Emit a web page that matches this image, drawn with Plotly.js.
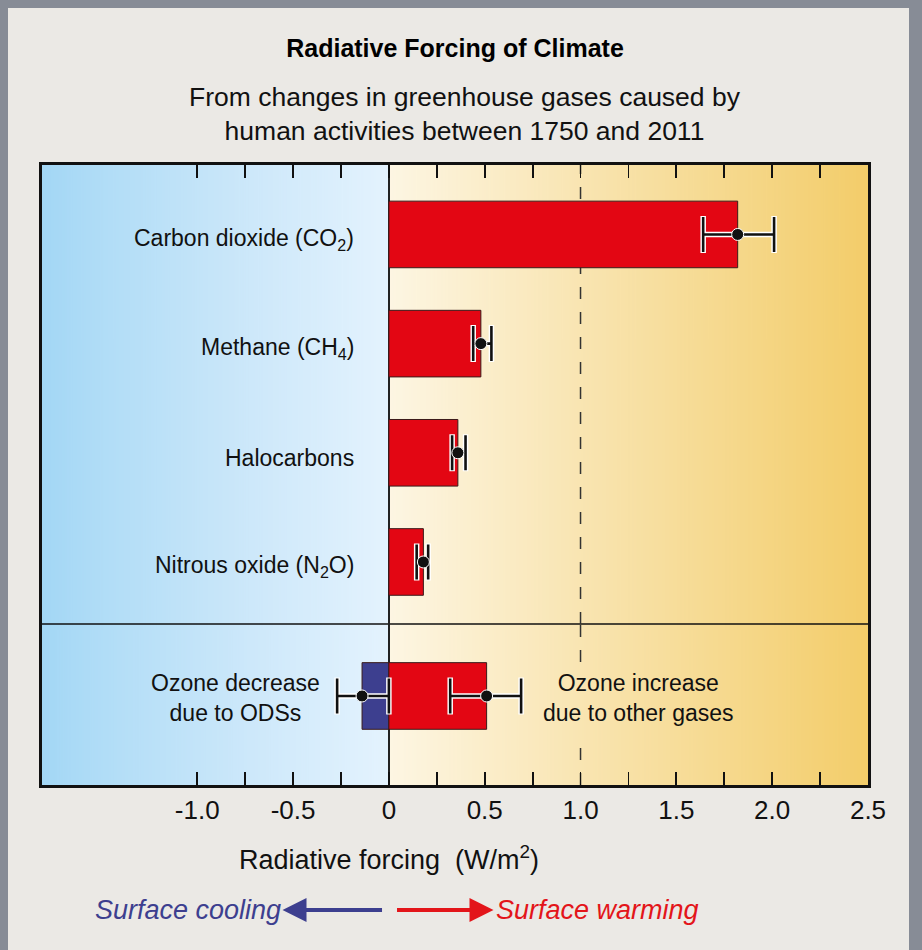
<!DOCTYPE html>
<html>
<head>
<meta charset="utf-8">
<script src="https://cdn.plot.ly/plotly-3.0.1.min.js"></script>
<style>
  html, body { margin: 0; padding: 0; background: #878c96; width: 922px; height: 950px; overflow: hidden; }
  #chart { position: absolute; left: 8px; top: 8px; width: 901px; height: 942px; }
</style>
</head>
<body>
<div id="chart"></div>
<script>
// ---------------- data ----------------
const GHG_CATS   = ['CO2', 'CH4', 'Halocarbons', 'N2O'];
const GHG_LABELS = ['Carbon dioxide (CO<sub>2</sub>)', 'Methane (CH<sub>4</sub>)', 'Halocarbons', 'Nitrous oxide (N<sub>2</sub>O)'];
const GHG_VALUE  = [1.82, 0.48, 0.36, 0.18];
const GHG_LOW    = [1.64, 0.44, 0.33, 0.145];
const GHG_HIGH   = [2.01, 0.535, 0.40, 0.205];

const OZONE_CAT       = ['Ozone'];
const OZONE_DEC_VALUE = [-0.14];
const OZONE_DEC_LOW   = [-0.27];
const OZONE_DEC_HIGH  = [0.0];
const OZONE_INC_VALUE = [0.51];
const OZONE_INC_LOW   = [0.32];
const OZONE_INC_HIGH  = [0.69];

const OZONE_DEC_LABEL = 'Ozone decrease<br>due to ODSs';
const OZONE_INC_LABEL = 'Ozone increase<br>due to other gases';

const TICK_VALS  = [-1, -0.5, 0, 0.5, 1, 1.5, 2, 2.5];
const TICK_TEXT  = ['-1.0', '-0.5', '0', '0.5', '1.0', '1.5', '2.0', '2.5'];
const MINOR_VALS = [-0.75, -0.25, 0.25, 0.75, 1.25, 1.75, 2.25];
const LONG_VALS  = [-1, 1, 2];

const TITLE    = 'Radiative Forcing of Climate';
const SUBTITLE = 'From changes in greenhouse gases caused by<br>human activities between 1750 and 2011';
const X_TITLE  = 'Radiative forcing  (W/m<sup>2</sup>)';
const COOL_TXT = 'Surface cooling';
const WARM_TXT = 'Surface warming';

// ---------------- styles ----------------
const X_RANGE = [-1.81, 2.5];
const RED = '#e30613', BLUE = '#3d3f8f', INK = '#111111';
const FONT = 'Liberation Sans, Arial, sans-serif';
const SEP = 0.2597;

function sub(a, b) { return a.map((v, i) => v - b[i]); }

function gradientURL(stops) {
  const c = document.createElement('canvas');
  c.width = 512; c.height = 2;
  const g = c.getContext('2d');
  const lg = g.createLinearGradient(0, 0, 512, 0);
  stops.forEach(s => lg.addColorStop(s[0], s[1]));
  g.fillStyle = lg; g.fillRect(0, 0, 512, 2);
  return c.toDataURL();
}
const coolURL = gradientURL([[0, '#a3d7f5'], [0.18, '#b1ddf7'], [0.6, '#cde8fa'], [1, '#e4f3fe']]);
const warmURL = gradientURL([[0, '#fdf6e3'], [0.4, '#f9e5b2'], [1, '#f3cd6a']]);

function errTrace(x, y, lo, hi, yaxis, xaxis, halo) {
  return {
    type: 'scatter', mode: 'markers', x: x, y: y, xaxis: xaxis, yaxis: yaxis,
    hoverinfo: 'skip', showlegend: false,
    marker: halo ? { size: 1, color: 'rgba(0,0,0,0)' } : { size: 12, color: INK, line: { color: '#ffffff', width: 1 } },
    error_x: {
      type: 'data', symmetric: false,
      array: sub(hi, x), arrayminus: sub(x, lo),
      color: halo ? '#ffffff' : INK,
      thickness: halo ? 5.5 : 2.6,
      width: halo ? 18.5 : 17.5
    }
  };
}

const barStyle = (col) => ({ color: col, line: { color: '#3a1a1a', width: 1 } });

const traces = [
  { type: 'bar', orientation: 'h', x: GHG_VALUE, y: GHG_CATS, xaxis: 'x', yaxis: 'y',
    width: 0.61, marker: barStyle(RED), hoverinfo: 'skip', showlegend: false },
  errTrace(GHG_VALUE, GHG_CATS, GHG_LOW, GHG_HIGH, 'y', 'x', true),
  errTrace(GHG_VALUE, GHG_CATS, GHG_LOW, GHG_HIGH, 'y', 'x', false),

  { type: 'bar', orientation: 'h', x: OZONE_DEC_VALUE, y: OZONE_CAT, xaxis: 'x2', yaxis: 'y2',
    width: 0.61, marker: barStyle(BLUE), hoverinfo: 'skip', showlegend: false },
  { type: 'bar', orientation: 'h', x: OZONE_INC_VALUE, y: OZONE_CAT, xaxis: 'x2', yaxis: 'y2',
    width: 0.61, marker: barStyle(RED), hoverinfo: 'skip', showlegend: false },
  errTrace(OZONE_DEC_VALUE, OZONE_CAT, OZONE_DEC_LOW, OZONE_DEC_HIGH, 'y2', 'x2', true),
  errTrace(OZONE_INC_VALUE, OZONE_CAT, OZONE_INC_LOW, OZONE_INC_HIGH, 'y2', 'x2', true),
  errTrace(OZONE_DEC_VALUE, OZONE_CAT, OZONE_DEC_LOW, OZONE_DEC_HIGH, 'y2', 'x2', false),
  errTrace(OZONE_INC_VALUE, OZONE_CAT, OZONE_INC_LOW, OZONE_INC_HIGH, 'y2', 'x2', false)
];

const baseX = {
  range: X_RANGE, showgrid: false, fixedrange: true,
  zeroline: true, zerolinecolor: '#222222', zerolinewidth: 1.5,
  showline: true, linecolor: INK, linewidth: 3,
  ticks: 'inside', tickvals: TICK_VALS, ticktext: TICK_TEXT, ticklen: 13, tickwidth: 1.8, tickcolor: INK,
  minor: { tickvals: MINOR_VALS, ticks: 'inside', ticklen: 13, tickwidth: 1.8, tickcolor: INK, showgrid: false }
};
const longX = {
  range: X_RANGE, showgrid: false, zeroline: false, showline: false, fixedrange: true,
  ticks: 'inside', tickvals: LONG_VALS, ticklen: 25, tickwidth: 1.8, tickcolor: INK, showticklabels: false
};

const layout = {
  width: 901, height: 942,
  margin: { l: 34, r: 41, t: 157, b: 165, pad: 0 },
  paper_bgcolor: '#ebe9e5', plot_bgcolor: 'rgba(0,0,0,0)',
  font: { family: FONT, color: INK },
  barmode: 'overlay', bargap: 0,
  title: { text: '<b>' + TITLE + '</b>', x: 0.5, xref: 'paper', xanchor: 'center',
           y: 0.9575, yref: 'container', yanchor: 'middle',
           font: { family: FONT, size: 25, color: '#000' } },
  xaxis:  Object.assign({}, baseX, { anchor: 'y', side: 'top', showticklabels: false }),
  xaxis3: Object.assign({}, longX, { overlaying: 'x', anchor: 'y', side: 'top' }),
  xaxis2: Object.assign({}, baseX, { anchor: 'y2', side: 'bottom', showticklabels: true,
           tickfont: { family: FONT, size: 26, color: INK }, ticklabelstandoff: 0 }),
  xaxis4: Object.assign({}, longX, { overlaying: 'x2', anchor: 'y2', side: 'bottom' }),
  yaxis:  { domain: [SEP, 1], anchor: 'x', type: 'category', categoryarray: GHG_CATS, categoryorder: 'array',
            range: [3.568, -0.636], showticklabels: false, ticks: '', showgrid: false, zeroline: false,
            showline: true, mirror: true, linecolor: INK, linewidth: 3, fixedrange: true },
  yaxis2: { domain: [0, SEP], anchor: 'x2', type: 'category', categoryarray: OZONE_CAT,
            range: [0.815, -0.659], showticklabels: false, ticks: '', showgrid: false, zeroline: false,
            showline: true, mirror: true, linecolor: INK, linewidth: 3, fixedrange: true },
  images: [
    { source: coolURL, xref: 'x', yref: 'paper', x: X_RANGE[0], y: 1, sizex: 0 - X_RANGE[0], sizey: 1,
      xanchor: 'left', yanchor: 'top', sizing: 'stretch', layer: 'below' },
    { source: warmURL, xref: 'x', yref: 'paper', x: 0, y: 1, sizex: X_RANGE[1], sizey: 1,
      xanchor: 'left', yanchor: 'top', sizing: 'stretch', layer: 'below' }
  ],
  shapes: [
    { type: 'line', xref: 'paper', yref: 'paper', x0: 0, x1: 1, y0: SEP, y1: SEP,
      line: { color: INK, width: 1.5 }, layer: 'below' },
    { type: 'line', xref: 'x', yref: 'y domain', x0: 1, x1: 1, y0: 0, y1: 1,
      line: { color: '#333', width: 1.5, dash: '12px,13px' }, layer: 'below' },
    { type: 'line', xref: 'x2', yref: 'y2 domain', x0: 1, x1: 1, y0: 0.764, y1: 1,
      line: { color: '#333', width: 1.5, dash: '12px,13px' }, layer: 'below' },
    { type: 'line', xref: 'x2', yref: 'y2 domain', x0: 1, x1: 1, y0: 0, y1: 0.28,
      line: { color: '#333', width: 1.5, dash: '12px,13px' }, layer: 'below' }
  ],
  annotations: []
};

// category labels
GHG_CATS.forEach((c, i) => {
  layout.annotations.push({ x: 0, xref: 'x', y: c, yref: 'y', xanchor: 'right', xshift: -33, yshift: -5,
    text: GHG_LABELS[i], showarrow: false, font: { family: FONT, size: 23, color: INK } });
});
// ozone labels
layout.annotations.push({ x: -0.80, xref: 'x2', y: OZONE_CAT[0], yref: 'y2', yshift: -2,
  xanchor: 'center', yanchor: 'middle', text: OZONE_DEC_LABEL, showarrow: false,
  font: { family: FONT, size: 23, color: INK } });
layout.annotations.push({ x: 1.30, xref: 'x2', y: OZONE_CAT[0], yref: 'y2', yshift: -2,
  xanchor: 'center', yanchor: 'middle', text: OZONE_INC_LABEL, showarrow: false,
  font: { family: FONT, size: 23, color: INK } });
// subtitle
layout.annotations.push({ x: 0.5, xref: 'paper', xshift: 10, y: 1.083, yref: 'paper', xanchor: 'center', yanchor: 'middle',
  text: SUBTITLE, showarrow: false, font: { family: FONT, size: 26.5, color: INK } });
// x-axis title (centered on zero)
layout.annotations.push({ x: 0, xref: 'x2', y: -0.118, yref: 'paper', xanchor: 'center', yanchor: 'middle',
  text: X_TITLE, showarrow: false, font: { family: FONT, size: 27, color: INK } });
// cooling / warming arrows
const ARROW_Y = -0.2016;
layout.annotations.push({ x: -0.555, xref: 'x2', y: ARROW_Y, yref: 'paper', ax: 101, ay: 0, text: '',
  showarrow: true, arrowhead: 2, arrowsize: 1.2, arrowwidth: 4, arrowcolor: BLUE, standoff: 0 });
layout.annotations.push({ x: 0.546, xref: 'x2', y: ARROW_Y, yref: 'paper', ax: -98, ay: 0, text: '',
  showarrow: true, arrowhead: 2, arrowsize: 1.2, arrowwidth: 4, arrowcolor: '#e3151a', standoff: 0 });
layout.annotations.push({ x: -0.555, xref: 'x2', y: ARROW_Y, yref: 'paper', xanchor: 'right', yanchor: 'middle',
  text: COOL_TXT, showarrow: false, font: { family: FONT, size: 27, color: BLUE, style: 'italic' } });
layout.annotations.push({ x: 0.546, xref: 'x2', y: ARROW_Y, yref: 'paper', xanchor: 'left', yanchor: 'middle',
  text: WARM_TXT, showarrow: false, font: { family: FONT, size: 27, color: '#e3151a', style: 'italic' } });

Plotly.newPlot('chart', traces, layout, { displayModeBar: false, staticPlot: true });
</script>
</body>
</html>
